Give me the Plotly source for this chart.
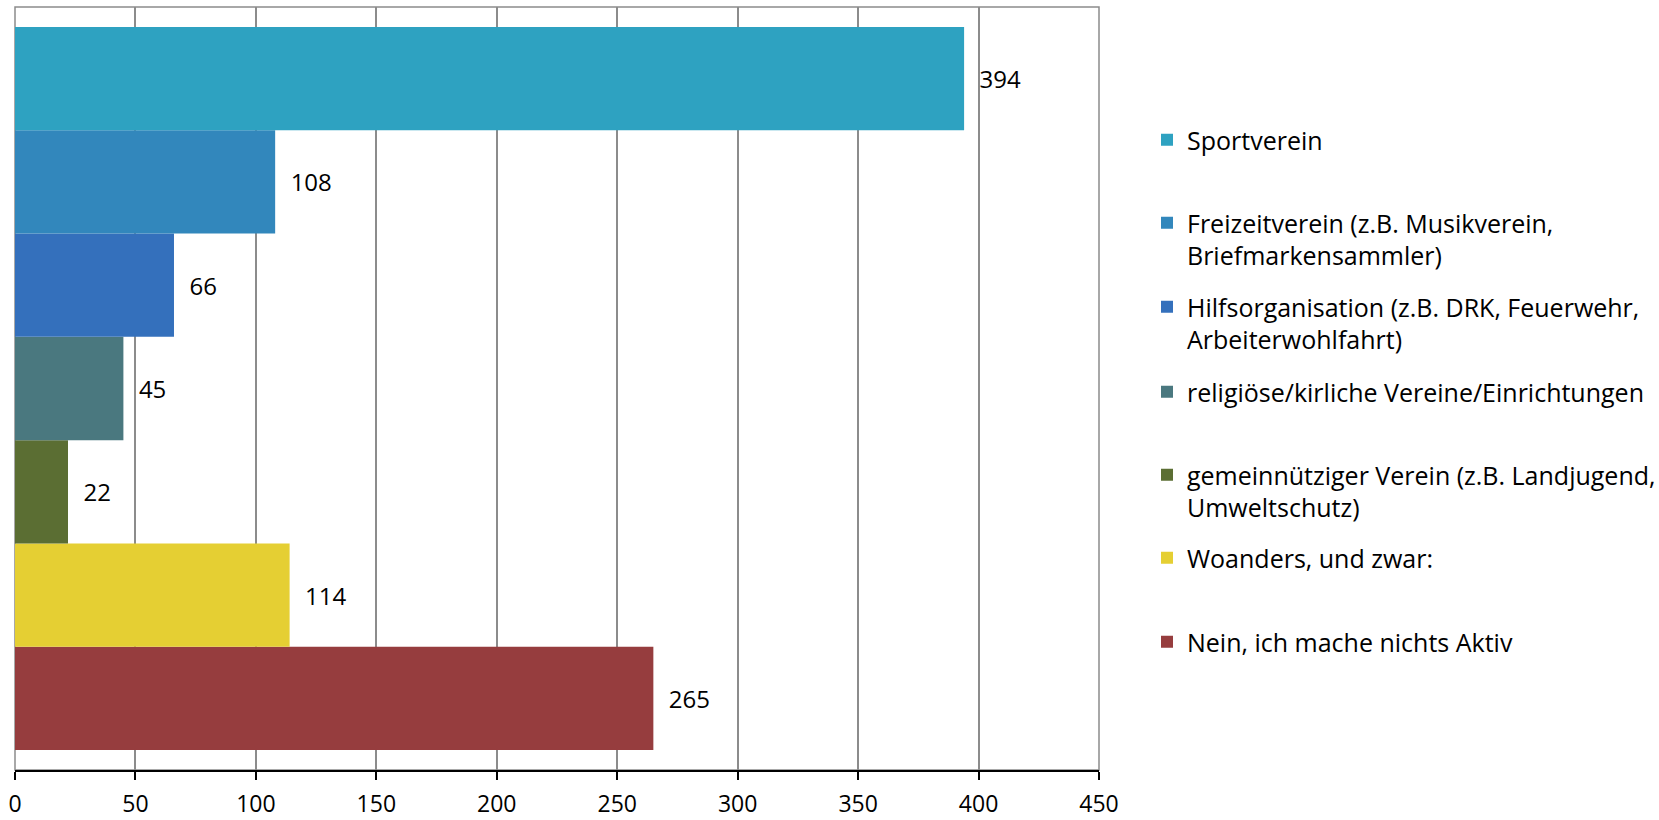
import plotly.graph_objects as go

categories = [
    "Sportverein",
    "Freizeitverein (z.B. Musikverein,<br>Briefmarkensammler)",
    "Hilfsorganisation (z.B. DRK, Feuerwehr,<br>Arbeiterwohlfahrt)",
    "religiöse/kirliche Vereine/Einrichtungen",
    "gemeinnütziger Verein (z.B. Landjugend,<br>Umweltschutz)",
    "Woanders, und zwar:",
    "Nein, ich mache nichts Aktiv",
]
values = [394, 108, 66, 45, 22, 114, 265]
colors = ["#2EA2C1", "#3287BC", "#3470BC", "#4A787F", "#5B6E33", "#E5CF33", "#963D3E"]
x_ticks = [0, 50, 100, 150, 200, 250, 300, 350, 400, 450]

# legend first-line centres (container px from top)
legend_y_px = [140, 223, 307, 392, 475, 558, 642]

W, H = 1659, 820
FONT = "Open Sans"
FS = 25
TICK_FS = 23

fig = go.Figure()
n = len(categories)
# add in reverse so first category sits at top of the group
for i in reversed(range(n)):
    lname = "legend" if i == 0 else f"legend{i+1}"
    fig.add_trace(go.Bar(
        x=[values[i]], y=[0], orientation="h",
        name=categories[i],
        marker=dict(color=colors[i], line=dict(width=0)),
        text=[values[i]], texttemplate="\u00a0\u00a0%{x}",
        textposition="outside", cliponaxis=False,
        textfont=dict(family=FONT, size=24, color="#000000"),
        legend=lname,
        hoverinfo="skip",
    ))

layout_legends = {}
for i in range(n):
    lname = "legend" if i == 0 else f"legend{i+1}"
    layout_legends[lname] = dict(
        xref="container", yref="container",
        x=1147 / W, y=1 - (legend_y_px[i] - 23) / H,
        xanchor="left", yanchor="top",
        bgcolor="rgba(0,0,0,0)", borderwidth=0,
        font=dict(family=FONT, size=FS, color="#000000"),
        valign="top",
    )

fig.update_layout(
    width=W, height=H,
    margin=dict(l=15, r=W - 1099, t=7, b=H - 770),
    paper_bgcolor="white", plot_bgcolor="white",
    barmode="group", bargap=0.0524, bargroupgap=0,
    showlegend=True,
    font=dict(family=FONT, size=FS, color="#000000"),
    xaxis=dict(
        range=[0, 450], tickvals=x_ticks, ticktext=[str(t) for t in x_ticks],
        showgrid=True, gridcolor="#8C8C8C", gridwidth=1.5,
        showline=True, linecolor="#000000", linewidth=2,
        ticks="outside", ticklen=8, tickwidth=2, tickcolor="#000000",
        tickfont=dict(family=FONT, size=TICK_FS, color="#000000"),
        ticklabelstandoff=4, automargin=False,
        zeroline=False, fixedrange=True,
    ),
    yaxis=dict(
        range=[-0.5, 0.5], showticklabels=False, showgrid=False,
        zeroline=False, showline=False, ticks="", automargin=False,
    ),
    shapes=[dict(type="rect", xref="paper", yref="paper", x0=0, x1=1, y0=0, y1=1,
                 line=dict(color="#8C8C8C", width=1.5), layer="below")],
    **layout_legends,
)

fig.write_html("out.html")
